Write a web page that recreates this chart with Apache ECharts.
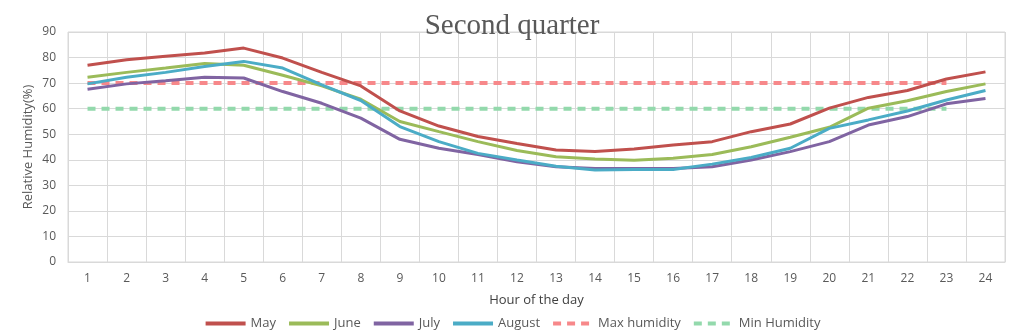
<!DOCTYPE html>
<html>
<head>
<meta charset="utf-8">
<script src="https://cdn.jsdelivr.net/npm/echarts@6/dist/echarts.min.js"></script>
<style>html,body{margin:0;padding:0;background:#fff;}#c{width:1024px;height:336px;}</style>
</head>
<body>
<div id="c"></div>
<script>
const hours = ['1','2','3','4','5','6','7','8','9','10','11','12','13','14','15','16','17','18','19','20','21','22','23','24'];
const may = [77.0,79.1,80.5,81.8,83.7,79.8,74.2,68.9,59.1,53.2,49.1,46.4,43.8,43.2,44.2,45.8,47.1,51.0,54.0,60.2,64.4,67.1,71.6,74.4];
const june = [72.3,74.2,75.9,77.7,77.0,73.1,68.9,63.7,55.0,51.0,47.1,43.6,41.2,40.3,39.8,40.6,42.1,45.1,48.8,52.7,60.2,63.1,66.7,69.7];
const july = [67.6,69.7,70.9,72.3,72.0,66.7,62.1,56.3,48.0,44.5,42.1,39.2,37.3,36.6,36.6,36.6,37.3,39.9,43.2,47.1,53.6,56.9,61.9,64.0];
const august = [69.7,72.3,74.2,76.5,78.5,75.9,69.3,63.2,53.0,47.1,42.5,39.9,37.5,36.0,36.2,36.2,38.3,40.9,44.5,52.3,55.6,59.1,63.4,67.1];
const maxHumidity = [70,70,70,70,70,70,70,70,70,70,70,70,70,70,70,70,70,70,70,70,70,70,70];
const minHumidity = [60,60,60,60,60,60,60,60,60,60,60,60,60,60,60,60,60,60,60,60,60,60,60];

const chart = echarts.init(document.getElementById('c'), null, {renderer:'canvas'});
const txt = '#595959';
const font = 'Open Sans';
function line(name, data, color, dashed){
  return {
    name, type:'line', data, symbol:'none', showSymbol:false, smooth:false,
    lineStyle:{color, width: dashed?4:3, type: dashed?[8,6]:'solid'},
    itemStyle:{color},
    z: dashed?1:2
  };
}
chart.setOption({
  animation:false,
  backgroundColor:'#fff',
  title:{text:'Second quarter', left:'center', top:7,
    textStyle:{fontFamily:'Liberation Serif', fontSize:29, fontWeight:'normal', color:txt}},
  grid:{left:68, right:19, top:32, bottom:74, show:true, borderColor:'#d9d9d9', borderWidth:1},
  legend:{bottom:1, left:'center', itemWidth:40, itemHeight:12, itemGap:11,
    itemStyle:{opacity:0},
    lineStyle:{width:4},
    textStyle:{fontFamily:font, fontSize:13, color:txt},
    data:['May','June','July','August','Max humidity','Min Humidity']},
  xAxis:{type:'category', data:hours, boundaryGap:true,
    name:'Hour of the day', nameLocation:'middle', nameGap:32,
    nameTextStyle:{fontFamily:font, fontSize:13, color:'#404040'},
    axisLine:{lineStyle:{color:'#d9d9d9'}}, axisTick:{show:false},
    axisLabel:{fontFamily:font, fontSize:12, color:txt, margin:11},
    splitLine:{show:true, lineStyle:{color:'#d9d9d9', width:1}}},
  yAxis:{type:'value', min:0, max:90, interval:10,
    name:'Relative Humidity(%)', nameLocation:'middle', nameGap:33, nameRotate:90,
    nameMoveOverlap:false,
    nameTextStyle:{fontFamily:font, fontSize:13, color:txt},
    axisLine:{show:false}, axisTick:{show:false},
    axisLabel:{fontFamily:font, fontSize:12, color:txt, margin:12},
    splitLine:{lineStyle:{color:'#d9d9d9', width:1}}},
  series:[
    line('May', may, '#C0504D'),
    line('June', june, '#9BBB59'),
    line('July', july, '#8064A2'),
    line('August', august, '#4BACC6'),
    line('Max humidity', maxHumidity, '#F7888A', true),
    line('Min Humidity', minHumidity, '#93D9AC', true)
  ]
});
</script>
</body>
</html>
